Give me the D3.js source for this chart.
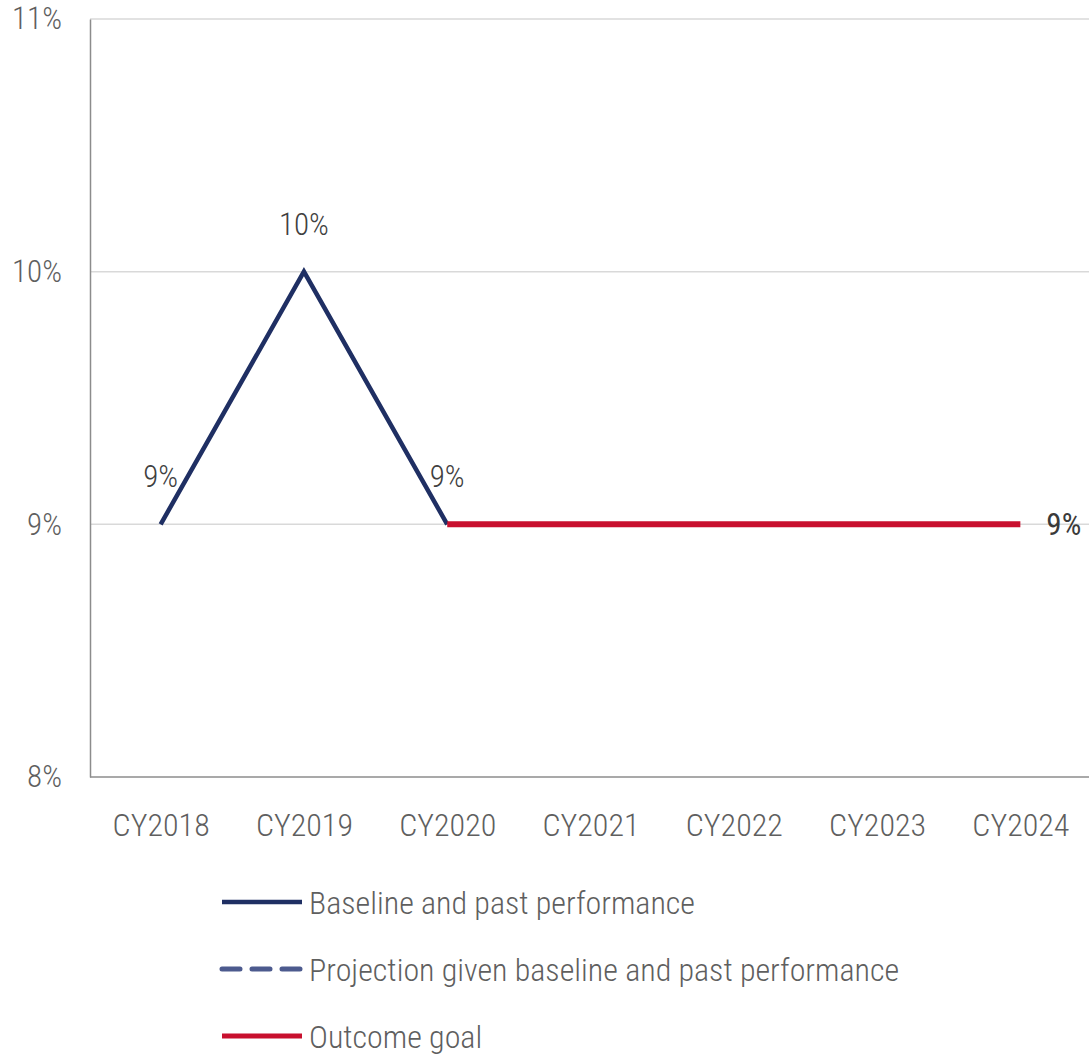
<!DOCTYPE html>
<html>
<head>
<meta charset="utf-8">
<script src="https://cdn.jsdelivr.net/npm/d3@7"></script>
<style>
  html, body { margin: 0; padding: 0; background: #fff; }
  svg { display: block; }
  text { font-family: "Roboto Condensed", "Liberation Sans Narrow", "Liberation Sans", sans-serif; font-weight: 300; }
</style>
</head>
<body>
<svg id="chart" width="1089" height="1059"></svg>
<script>
// Calendar years on the horizontal axis
const years = ["CY2018", "CY2019", "CY2020", "CY2021", "CY2022", "CY2023", "CY2024"];
// Baseline and past performance (percent)
const baselineYears = ["CY2018", "CY2019", "CY2020"];
const baselineValues = [9, 10, 9];
// Outcome goal (percent)
const goalYears = ["CY2020", "CY2021", "CY2022", "CY2023", "CY2024"];
const goalValues = [9, 9, 9, 9, 9];
// Projection series has no points drawn, only its legend entry
const projectionYears = [];
const projectionValues = [];
// Y axis ticks (percent)
const yTicks = [8, 9, 10, 11];
// Legend entries
const legendLabels = ["Baseline and past performance", "Projection given baseline and past performance", "Outcome goal"];

const svg = d3.select("#chart");
const plotLeft = 90, plotRight = 1092, plotTop = 19, plotBottom = 777;

const x = d3.scalePoint().domain(years).range([plotLeft - 1, plotRight]).padding(0.5);
const y = d3.scaleLinear().domain([8, 11]).range([plotBottom, plotTop]);

const navy = "#1f2f63";
const dashNavy = "#4c5a8e";
const red = "#c8102e";
const gridCol = "#d9d9d9";
const axisCol = "#8c8c8c";
const tickText = "#5f5f5f";
const labelText = "#404040";

// Horizontal gridlines
svg.append("g")
  .selectAll("line")
  .data(yTicks.filter(d => d > 8))
  .join("line")
  .attr("x1", plotLeft).attr("x2", 1089)
  .attr("y1", d => y(d)).attr("y2", d => y(d))
  .attr("stroke", gridCol).attr("stroke-width", 1.5);

// Y axis
const yAxis = svg.append("g")
  .attr("transform", `translate(${plotLeft},0)`)
  .call(d3.axisLeft(y).tickValues(yTicks).tickFormat(d => d + "%").tickSize(0).tickPadding(28));
yAxis.select(".domain").attr("stroke", axisCol).attr("stroke-width", 1.5);
yAxis.selectAll("text").attr("fill", tickText).attr("font-size", 31)
  .attr("font-family", null);

// X axis
const xAxis = svg.append("g")
  .attr("transform", `translate(0,${plotBottom})`)
  .call(d3.axisBottom(x).tickSize(0).tickPadding(36));
xAxis.select(".domain").attr("d", `M${plotLeft},0H1089`).attr("stroke", axisCol).attr("stroke-width", 1.5);
xAxis.selectAll("text").attr("fill", tickText).attr("font-size", 32)
  .attr("font-family", null);

const line = d3.line().x(d => x(d[0])).y(d => y(d[1]));

// Baseline series
svg.append("path")
  .datum(d3.zip(baselineYears, baselineValues))
  .attr("d", line)
  .attr("fill", "none").attr("stroke", navy).attr("stroke-width", 4.5)
  .attr("stroke-linejoin", "miter");

// Projection series (empty)
svg.append("path")
  .datum(d3.zip(projectionYears, projectionValues))
  .attr("d", line)
  .attr("fill", "none").attr("stroke", dashNavy).attr("stroke-width", 4.5)
  .attr("stroke-dasharray", "16,12");

// Outcome goal series
svg.append("path")
  .datum(d3.zip(goalYears, goalValues))
  .attr("d", line)
  .attr("fill", "none").attr("stroke", red).attr("stroke-width", 6);

// Data labels for baseline: above each point
svg.append("g")
  .selectAll("text")
  .data(d3.zip(baselineYears, baselineValues))
  .join("text")
  .attr("x", d => x(d[0]))
  .attr("y", d => y(d[1]) - 37)
  .attr("text-anchor", "middle")
  .attr("fill", labelText).attr("font-size", 31)
  .text(d => d[1] + "%");

// Data label for the final goal value: right of the point
const lastGoal = [goalYears[goalYears.length - 1], goalValues[goalValues.length - 1]];
svg.append("text")
  .attr("x", x(lastGoal[0]) + 26)
  .attr("y", y(lastGoal[1]))
  .attr("dy", "0.36em")
  .attr("fill", "#3a3a3a").attr("font-size", 31)
  .style("font-weight", 400)
  .text(lastGoal[1] + "%");

// Legend
const legendStyles = [
  { color: navy, dash: null, width: 4.5 },
  { color: dashNavy, dash: "18,12", width: 5 },
  { color: red, dash: null, width: 5 }
];
const legend = svg.append("g");
legendLabels.forEach((label, i) => {
  const cy = 902 + i * 67;
  legend.append("line")
    .attr("x1", 222).attr("x2", 302)
    .attr("y1", cy).attr("y2", cy)
    .attr("stroke", legendStyles[i].color)
    .attr("stroke-width", legendStyles[i].width)
    .attr("stroke-dasharray", legendStyles[i].dash)
    .attr("stroke-linecap", legendStyles[i].dash ? "round" : "butt");
  legend.append("text")
    .attr("x", 309).attr("y", cy)
    .attr("dy", "0.36em")
    .attr("fill", tickText).attr("font-size", 32)
    .text(label);
});
</script>
</body>
</html>
